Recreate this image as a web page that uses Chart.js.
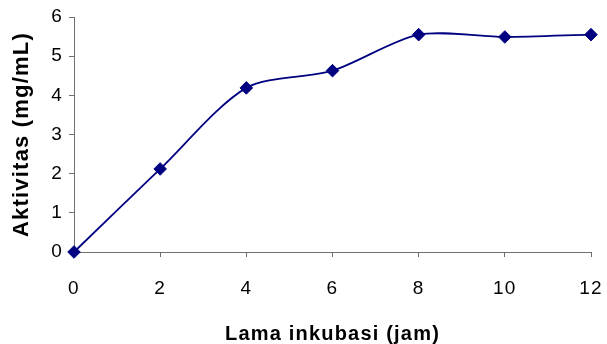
<!DOCTYPE html>
<html>
<head>
<meta charset="utf-8">
<script src="https://cdn.jsdelivr.net/npm/chart.js@4/dist/chart.umd.min.js"></script>
<style>
  html, body { margin: 0; padding: 0; background: #fff; }
  #wrap { width: 607px; height: 344px; }
</style>
</head>
<body>
<div id="wrap"><canvas id="c" width="607" height="344"></canvas></div>
<script>
// Enzyme activity over incubation time
const hours = [0, 2, 4, 6, 8, 10, 12];
const activity = [0, 2.12, 4.19, 4.63, 5.55, 5.49, 5.55];
const xTicks = [0, 2, 4, 6, 8, 10, 12];
const yTicks = [0, 1, 2, 3, 4, 5, 6];
const xTitle = 'Lama inkubasi (jam)';
const yTitle = 'Aktivitas (mg/mL)';

const navy = '#000080';
const axisColor = '#6f6f6f';
const fontFamily = '"Liberation Sans", Arial, sans-serif';

// Wider text tracking for axis text
const tracking = {
  id: 'tracking',
  beforeDraw(chart) { chart.ctx.letterSpacing = '1.2px'; },
  beforeDatasetsDraw(chart) { chart.ctx.letterSpacing = '0px'; }
};

new Chart(document.getElementById('c'), {
  type: 'scatter',
  data: {
    datasets: [{
      data: hours.map((h, i) => ({ x: h, y: activity[i] })),
      showLine: true,
      borderColor: navy,
      borderWidth: 1.8,
      tension: 0.28,
      pointStyle: 'rectRot',
      pointRadius: 6.3,
      pointBackgroundColor: navy,
      pointBorderColor: navy,
      pointBorderWidth: 1,
      clip: false
    }]
  },
  options: {
    responsive: false,
    animation: false,
    events: [],
    layout: { padding: { left: 0, top: 17, right: 16, bottom: 0 } },
    plugins: { legend: { display: false }, tooltip: { enabled: false } },
    scales: {
      x: {
        type: 'linear',
        min: 0, max: 12,
        afterBuildTicks(scale) { scale.ticks = xTicks.map(v => ({ value: v })); },
        afterFit(scale) {
          scale.height = 92;
          scale.paddingLeft = 0;
          scale.paddingRight = 0;
        },
        grid: { drawOnChartArea: false, drawTicks: true, tickLength: 5, color: axisColor, lineWidth: 1 },
        border: { color: axisColor, width: 1 },
        ticks: { color: '#000', font: { family: fontFamily, size: 19 }, padding: 20, maxRotation: 0 },
        title: {
          display: true, text: xTitle, color: '#000',
          font: { family: fontFamily, size: 20, weight: 'bold', lineHeight: 1 },
          padding: { top: 0, bottom: 0 }
        }
      },
      y: {
        type: 'linear',
        min: 0, max: 6,
        afterBuildTicks(scale) { scale.ticks = yTicks.map(v => ({ value: v })); },
        afterFit(scale) {
          scale.width = 74;
          scale.paddingTop = 0;
          scale.paddingBottom = 0;
        },
        grid: { drawOnChartArea: false, drawTicks: true, tickLength: 5, color: axisColor, lineWidth: 1 },
        border: { color: axisColor, width: 1 },
        ticks: { color: '#000', font: { family: fontFamily, size: 19 }, padding: 6 },
        title: {
          display: true, text: yTitle, color: '#000',
          font: { family: fontFamily, size: 22, weight: 'bold', lineHeight: 1 },
          padding: { top: 11, bottom: 0 }
        }
      }
    }
  },
  plugins: [tracking]
});
</script>
</body>
</html>
